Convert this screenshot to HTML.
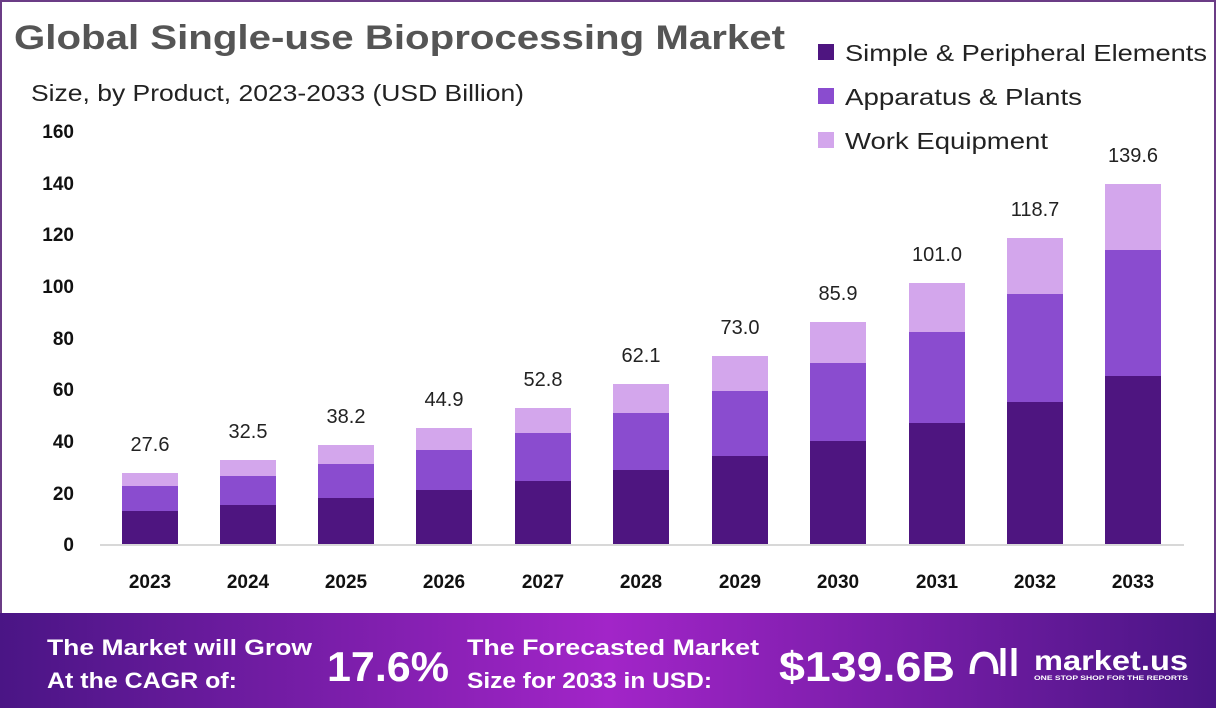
<!DOCTYPE html>
<html><head><meta charset="utf-8"><style>
body{margin:0;width:1216px;height:708px;overflow:hidden;background:#fff;font-family:"Liberation Sans",sans-serif}
</style></head><body>
<svg width="1216" height="708" xmlns="http://www.w3.org/2000/svg" font-family="Liberation Sans, sans-serif">
<defs><linearGradient id="g" x1="0" x2="1" y1="0" y2="0">
<stop offset="0" stop-color="#4a1585"/><stop offset="0.5" stop-color="#a225c8"/><stop offset="1" stop-color="#4a1585"/></linearGradient></defs>
<rect x="1" y="1" width="1214" height="706" fill="#fff" stroke="#6b3c86" stroke-width="2"/>
<text x="14" y="49" font-size="34" font-weight="bold" fill="#555" textLength="771" lengthAdjust="spacingAndGlyphs">Global Single-use Bioprocessing Market</text>
<text x="31" y="101" font-size="23" fill="#222" textLength="493" lengthAdjust="spacingAndGlyphs">Size, by Product, 2023-2033 (USD Billion)</text>
<rect x="818" y="44" width="16" height="16" fill="#4e1580"/><text x="845" y="61" font-size="23" fill="#222" textLength="362" lengthAdjust="spacingAndGlyphs">Simple &amp; Peripheral Elements</text>
<rect x="818" y="88" width="16" height="16" fill="#8a4ccf"/><text x="845" y="105" font-size="23" fill="#222" textLength="237" lengthAdjust="spacingAndGlyphs">Apparatus &amp; Plants</text>
<rect x="818" y="132" width="16" height="16" fill="#d3a6ec"/><text x="845" y="149" font-size="23" fill="#222" textLength="203" lengthAdjust="spacingAndGlyphs">Work Equipment</text>
<g font-size="19" font-weight="bold" fill="#111" text-anchor="end">
<text x="74" y="138">160</text><text x="74" y="190">140</text><text x="74" y="241">120</text><text x="74" y="293">100</text><text x="74" y="345">80</text><text x="74" y="396">60</text><text x="74" y="448">40</text><text x="74" y="500">20</text><text x="74" y="551">0</text>
</g>
<line x1="100" y1="545" x2="1184" y2="545" stroke="#ccc" stroke-width="1.5"/>
<g font-size="19" font-weight="bold" fill="#111" text-anchor="middle">
<text x="150" y="588">2023</text><text x="248" y="588">2024</text><text x="346" y="588">2025</text><text x="444" y="588">2026</text><text x="543" y="588">2027</text><text x="641" y="588">2028</text><text x="740" y="588">2029</text><text x="838" y="588">2030</text><text x="937" y="588">2031</text><text x="1035" y="588">2032</text><text x="1133" y="588">2033</text>
</g>
<g font-size="20" fill="#222" text-anchor="middle">
<rect x="122" y="473" width="56" height="71" fill="#d3a6ec"/><rect x="122" y="486" width="56" height="58" fill="#8a4ccf"/><rect x="122" y="511" width="56" height="33" fill="#4e1580"/><text x="150" y="451">27.6</text>
<rect x="220" y="460" width="56" height="84" fill="#d3a6ec"/><rect x="220" y="476" width="56" height="68" fill="#8a4ccf"/><rect x="220" y="505" width="56" height="39" fill="#4e1580"/><text x="248" y="438">32.5</text>
<rect x="318" y="445" width="56" height="99" fill="#d3a6ec"/><rect x="318" y="464" width="56" height="80" fill="#8a4ccf"/><rect x="318" y="498" width="56" height="46" fill="#4e1580"/><text x="346" y="423">38.2</text>
<rect x="416" y="428" width="56" height="116" fill="#d3a6ec"/><rect x="416" y="450" width="56" height="94" fill="#8a4ccf"/><rect x="416" y="490" width="56" height="54" fill="#4e1580"/><text x="444" y="406">44.9</text>
<rect x="515" y="408" width="56" height="136" fill="#d3a6ec"/><rect x="515" y="433" width="56" height="111" fill="#8a4ccf"/><rect x="515" y="481" width="56" height="63" fill="#4e1580"/><text x="543" y="386">52.8</text>
<rect x="613" y="384" width="56" height="160" fill="#d3a6ec"/><rect x="613" y="413" width="56" height="131" fill="#8a4ccf"/><rect x="613" y="470" width="56" height="74" fill="#4e1580"/><text x="641" y="362">62.1</text>
<rect x="712" y="356" width="56" height="188" fill="#d3a6ec"/><rect x="712" y="391" width="56" height="153" fill="#8a4ccf"/><rect x="712" y="456" width="56" height="88" fill="#4e1580"/><text x="740" y="334">73.0</text>
<rect x="810" y="322" width="56" height="222" fill="#d3a6ec"/><rect x="810" y="363" width="56" height="181" fill="#8a4ccf"/><rect x="810" y="441" width="56" height="103" fill="#4e1580"/><text x="838" y="300">85.9</text>
<rect x="909" y="283" width="56" height="261" fill="#d3a6ec"/><rect x="909" y="332" width="56" height="212" fill="#8a4ccf"/><rect x="909" y="423" width="56" height="121" fill="#4e1580"/><text x="937" y="261">101.0</text>
<rect x="1007" y="238" width="56" height="306" fill="#d3a6ec"/><rect x="1007" y="294" width="56" height="250" fill="#8a4ccf"/><rect x="1007" y="402" width="56" height="142" fill="#4e1580"/><text x="1035" y="216">118.7</text>
<rect x="1105" y="184" width="56" height="360" fill="#d3a6ec"/><rect x="1105" y="250" width="56" height="294" fill="#8a4ccf"/><rect x="1105" y="376" width="56" height="168" fill="#4e1580"/><text x="1133" y="162">139.6</text>
</g>
<rect x="0" y="613" width="1216" height="95" fill="url(#g)"/>
<g fill="#fff" font-weight="bold">
<text x="47" y="655" font-size="22" textLength="265" lengthAdjust="spacingAndGlyphs">The Market will Grow</text>
<text x="47" y="688" font-size="22" textLength="190" lengthAdjust="spacingAndGlyphs">At the CAGR of:</text>
<text x="327" y="681" font-size="42" textLength="122" lengthAdjust="spacingAndGlyphs">17.6%</text>
<text x="467" y="655" font-size="22" textLength="292" lengthAdjust="spacingAndGlyphs">The Forecasted Market</text>
<text x="467" y="688" font-size="22" textLength="245" lengthAdjust="spacingAndGlyphs">Size for 2033 in USD:</text>
<text x="779" y="681" font-size="42" textLength="176" lengthAdjust="spacingAndGlyphs">$139.6B</text>
<text x="1034" y="670" font-size="28" textLength="154" lengthAdjust="spacingAndGlyphs">market.us</text>
<text x="1034" y="680" font-size="6" textLength="154" lengthAdjust="spacingAndGlyphs">ONE STOP SHOP FOR THE REPORTS</text>
<path d="M972 674 q0 -20 12 -20 q12 0 12 20 M1003 648 v28 M1014 648 v28" stroke="#fff" stroke-width="5" fill="none"/>
</g>
</svg>
</body></html>
